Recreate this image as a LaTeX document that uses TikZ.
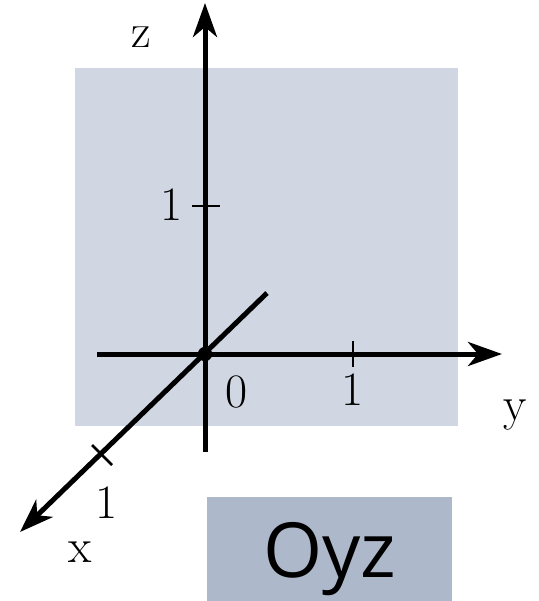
\documentclass[tikz,border=0pt]{standalone}
\usepackage{fontspec}
\newfontfamily\namefont{Open Sans}
\usetikzlibrary{arrows.meta}
\definecolor{planefill}{RGB}{208,215,226}
\definecolor{namefill}{RGB}{173,184,203}

\begin{document}
\begin{tikzpicture}[
  x=0.5pt, y=-0.5pt,
  axis/.style={line width=2.5pt, -{Stealth[length=17pt, width=12pt, inset=5pt]}},
  tick/.style={line width=1.4pt},
  lbl/.style={anchor=base, inner sep=0pt, font=\fontsize{24}{28}\selectfont}
]
\useasboundingbox (0,0) rectangle (538,601);
\fill[planefill] (75,68) rectangle (458,426);
\fill[namefill] (207,497) rectangle (452,601);

\coordinate (O) at (205,354);
\coordinate (xback) at (267,293);
\coordinate (xend) at (20,532);
\coordinate (yback) at (97,354);
\coordinate (yend) at (502,354);
\coordinate (zback) at (205,452);
\coordinate (zend) at (205,3);

\draw[axis] (yback) -- (yend);
\draw[axis] (zback) -- (zend);
\draw[axis] (xback) -- (xend);
\fill (O) circle (3.6pt);

\draw[tick] (353,341) -- (353,367);
\draw[tick] (192,206) -- (220,206);
\draw[tick] (92,445) -- (112,465);

\node[lbl] (zname) at (141,47) {z};
\node[lbl] (yname) at (515,420) {y};
\node[lbl] (xname) at (80,562) {x};
\node[lbl] (zero) at (237,407) {0};
\node[lbl] (yone) at (353,405) {1};
\node[lbl] (zone) at (172,220) {1};
\node[lbl] (xone) at (107,518) {1};

\node[anchor=base, inner sep=0pt, font=\namefont\fontsize{38}{44}\selectfont] (plane) at (330,577) {Oyz};
\end{tikzpicture}
\end{document}
